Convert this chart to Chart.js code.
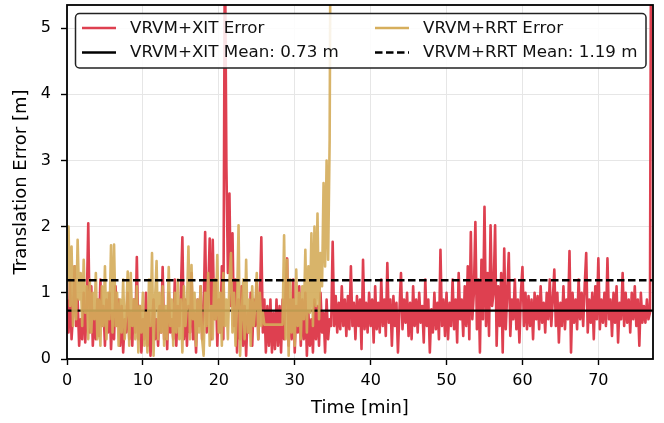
<!DOCTYPE html>
<html>
<head>
<meta charset="utf-8">
<script src="https://cdn.jsdelivr.net/npm/chart.js@4/dist/chart.umd.min.js"></script>
<style>
html,body{margin:0;padding:0;background:#fff;}
#wrap{width:664px;height:423px;position:relative;}
</style>
</head>
<body>
<div id="wrap"><canvas id="c" width="664" height="423"></canvas></div>
<script>
// ---- data ----
const timeStep = 0.2; // minutes between samples
const xitError = [
0.9,0.4,1.2,0.3,0.7, 1.4,0.5,0.9,0.2,0.6, 0.3,1.0,0.25,0.8,2.05, 0.4,1.1,0.2,0.7,0.3, 0.9,0.35,1.2,0.5,0.8,
0.2,0.9,0.4,1.0,0.15, 0.7,0.3,1.1,0.5,0.9, 0.2,0.8,0.1,0.6,0.4, 1.0,0.3,0.7,0.2,0.9, 0.4,1.54,0.3,0.8,0.1,
0.6,0.3,1.0,0.2,0.7, 0.05,0.5,0.9,0.3,0.6, 0.2,0.8,0.4,1.39,0.3, 0.7,0.15,1.0,0.4,0.6, 0.3,1.2,0.2,0.8,0.5,
1.0,1.84,0.3,0.9,0.2, 0.8,0.4,1.3,0.3,0.7, 0.1,0.9,0.5,1.1,0.3, 0.7,1.92,0.4,1.0,1.82, 0.3,1.8,0.6,1.2,0.2,
0.9,0.4,1.4,0.3,6.5, 2.9,1.3,2.5,0.8,1.9, 0.5,1.2,0.1,0.9,0.3, 1.1,0.2,0.8,0.05,0.7, 0.4,1.0,0.2,0.9,0.5,
1.2,0.3,0.8,1.84,0.4, 0.9,0.1,0.8,0.2,0.9, 0.1,0.7,0.15,0.9,0.2, 0.8,0.1,0.9,0.3,1.0, 1.52,0.2,0.9,0.3,1.2,
0.1,0.8,0.4,1.1,0.2, 0.9,0.3,1.0,0.05,0.7, 0.2,0.6,0.1,0.9,0.3, 0.8,0.2,1.0,0.4,0.7, 0.1,0.9,0.3,0.6,0.5,
1.77,0.5,0.95,0.4,0.85, 0.45,1.1,0.5,0.9,0.35, 0.95,0.45,1.4,0.5,0.85, 0.3,0.95,0.5,0.9,0.15, 1.5,0.45,0.85,0.4,1.0,
0.5,0.9,0.25,1.1,0.45, 0.85,0.4,1.2,0.5,0.9, 0.35,1.45,0.55,0.9,0.2, 0.95,0.5,0.85,0.1,0.75, 1.3,0.45,0.9,0.55,1.0,
0.35,0.85,0.3,1.1,0.5, 0.9,0.4,1.0,0.55,0.8, 0.25,1.2,0.5,0.9,0.1, 0.75,0.4,1.0,0.45,0.85, 0.3,1.65,0.5,0.9,0.35,
1.0,0.3,0.85,0.5,1.2, 0.45,0.9,0.25,1.3,0.6, 0.9,0.35,1.1,0.5,1.4, 0.3,1.92,0.6,1.0,2.07, 0.45,1.2,0.1,1.5,0.6,
2.3,0.5,1.3,0.35,2.02, 0.8,1.0,2.02,0.2,1.1, 0.5,1.3,0.1,1.67,0.45, 1.0,1.6,0.35,0.9,0.6, 1.2,0.45,0.9,0.25,1.0,
1.39,0.5,1.0,0.45,0.95, 0.5,0.9,0.3,1.0,0.6, 0.95,0.45,1.1,0.55,0.85, 0.4,1.0,0.6,1.2,0.5, 0.9,1.35,0.5,1.0,0.25,
0.85,0.5,1.1,0.45,0.9, 0.6,1.63,0.1,1.0,0.55, 0.9,0.45,1.2,0.6,1.0, 0.5,1.1,1.6,0.4,0.9, 0.55,1.0,0.3,1.1,0.6,
1.52,0.45,0.9,0.55,1.0, 0.5,1.52,0.6,0.9,0.35, 1.0,0.55,1.1,0.25,0.85, 0.6,1.3,0.5,1.0,0.55, 0.9,0.4,1.0,0.6,1.1,
0.5,0.9,0.2,1.0,0.55, 0.8,0.55,0.9,0.6,0.7,
9.0
];
const rrtError = [
1.2,2.0,0.8,1.7,0.5, 1.4,0.6,1.8,0.9,1.3, 0.5,1.5,0.7,1.1,0.3, 1.2,0.4,1.0,0.6,1.3, 0.3,0.9,0.2,1.1,0.5,
1.4,0.3,1.0,0.6,1.72, 0.4,1.73,0.5,1.0,0.2, 0.9,0.4,1.2,0.3,0.7, 1.32,0.2,1.3,0.5,0.9, 0.3,1.1,0.1,0.8,0.4,
1.0,0.2,0.7,0.1,1.2, 0.5,1.6,0.05,0.9,1.48, 0.3,1.0,0.4,1.1,0.2, 0.8,0.3,1.39,0.5,0.9, 0.2,1.0,0.4,1.2,0.3,
0.9,0.1,1.1,0.5,0.8, 1.7,0.3,1.42,0.6,1.0, 0.2,0.9,0.4,1.1,0.3, 0.05,1.0,0.5,1.3,0.2, 0.8,0.3,1.2,0.6,1.57,
0.4,1.0,0.2,1.3,0.5, 0.9,0.3,1.2,1.6,0.4, 1.0,0.2,0.8,2.02,0.05, 0.6,1.2,0.3,1.5,0.4, 0.9,0.2,1.1,0.5,0.8,
1.3,0.3,1.0,0.5,0.7, 0.52,0.52,0.52,0.52,0.52, 0.52,0.52,0.52,0.52,0.52, 0.52,0.52,0.52,1.87,0.3, 1.5,0.05,1.2,0.4,0.9,
0.2,1.35,0.5,1.0,0.3, 1.1,0.6,1.65,0.4,1.4, 0.7,1.9,0.5,2.0,0.8, 2.2,0.6,1.6,1.1,2.66, 1.4,3.0,1.5,3.3,9.0
];
const xitMean = 0.73;
const rrtMean = 1.19;
const xRange = [0, 77.2];
const yRange = [0, 5.35];
const xTicks = [0, 10, 20, 30, 40, 50, 60, 70];
const yTicks = [0, 1, 2, 3, 4, 5];
const seriesLabels = ['VRVM+XIT Error', 'VRVM+XIT Mean: 0.73 m', 'VRVM+RRT Error', 'VRVM+RRT Mean: 1.19 m'];
const xTitle = 'Time [min]';
const yTitle = 'Translation Error [m]';

// ---- styles ----
const RED = 'rgb(222,64,80)';
const GOLD = 'rgba(212,172,90,0.9)';
const FONT = '"DejaVu Sans", "Liberation Sans", sans-serif';
const DASH = [7.5, 3.5];

const toPoints = arr => arr.map((v, i) => ({x: +(i * timeStep).toFixed(2), y: v}));
const hLine = v => [{x: xRange[0], y: v}, {x: xRange[1], y: v}];

const framePlugin = {
  id: 'frame',
  afterDatasetsDraw(chart) {
    const {ctx, chartArea: a} = chart;
    ctx.save();
    ctx.strokeStyle = '#000';
    ctx.lineWidth = 1.8;
    ctx.strokeRect(a.left, a.top, a.right - a.left, a.bottom - a.top);
    ctx.restore();
  }
};

const legendPlugin = {
  id: 'mplLegend',
  afterDraw(chart) {
    const ctx = chart.ctx;
    ctx.save();
    const bx = 75.5, by = 13.5, bw = 570.5, bh = 54.5, r = 4;
    ctx.beginPath();
    ctx.moveTo(bx + r, by);
    ctx.lineTo(bx + bw - r, by);
    ctx.arcTo(bx + bw, by, bx + bw, by + r, r);
    ctx.lineTo(bx + bw, by + bh - r);
    ctx.arcTo(bx + bw, by + bh, bx + bw - r, by + bh, r);
    ctx.lineTo(bx + r, by + bh);
    ctx.arcTo(bx, by + bh, bx, by + bh - r, r);
    ctx.lineTo(bx, by + r);
    ctx.arcTo(bx, by, bx + r, by, r);
    ctx.closePath();
    ctx.fillStyle = 'rgba(255,255,255,0.85)';
    ctx.fill();
    ctx.strokeStyle = '#222';
    ctx.lineWidth = 1.5;
    ctx.stroke();

    const items = [
      {label: seriesLabels[0], color: RED, dash: [], w: 2.5, x: 82, y: 28},
      {label: seriesLabels[1], color: '#000', dash: [], w: 2.5, x: 82, y: 52.5},
      {label: seriesLabels[2], color: 'rgb(214,174,92)', dash: [], w: 2.5, x: 375, y: 28},
      {label: seriesLabels[3], color: '#000', dash: DASH, w: 2.5, x: 375, y: 52.5}
    ];
    ctx.font = '16.7px ' + FONT;
    ctx.textBaseline = 'middle';
    ctx.textAlign = 'left';
    items.forEach(it => {
      ctx.beginPath();
      ctx.setLineDash(it.dash);
      ctx.strokeStyle = it.color;
      ctx.lineWidth = it.w;
      ctx.moveTo(it.x, it.y);
      ctx.lineTo(it.x + 34, it.y);
      ctx.stroke();
      ctx.setLineDash([]);
      ctx.fillStyle = '#111';
      ctx.fillText(it.label, it.x + 48, it.y + 0.5);
    });
    ctx.restore();
  }
};

new Chart(document.getElementById('c'), {
  type: 'line',
  data: {
    datasets: [
      {label: seriesLabels[0], data: toPoints(xitError), borderColor: RED, borderWidth: 2.6, order: 4},
      {label: seriesLabels[1], data: hLine(xitMean), borderColor: '#000', borderWidth: 2.3, order: 3},
      {label: seriesLabels[2], data: toPoints(rrtError), borderColor: GOLD, borderWidth: 2.6, order: 2},
      {label: seriesLabels[3], data: hLine(rrtMean), borderColor: '#000', borderWidth: 2.3, borderDash: DASH, order: 1}
    ]
  },
  options: {
    responsive: false,
    animation: false,
    devicePixelRatio: 1,
    parsing: false,
    elements: {point: {radius: 0}, line: {tension: 0, borderJoinStyle: 'round', borderCapStyle: 'butt'}},
    layout: {padding: {left: 0, top: 5, right: 11, bottom: 0}},
    plugins: {legend: {display: false}, tooltip: {enabled: false}},
    scales: {
      x: {
        type: 'linear',
        min: xRange[0], max: xRange[1],
        afterBuildTicks: s => { s.ticks = xTicks.map(v => ({value: v})); },
        afterFit: s => { s.height = 64; s.paddingLeft = 0; s.paddingRight = 0; },
        ticks: {autoSkip: false, maxRotation: 0, padding: 6, color: '#000', font: {family: FONT, size: 16}},
        grid: {color: '#e6e6e6', lineWidth: 1, tickLength: 6, tickColor: '#000', tickWidth: 1.4},
        border: {display: false},
        title: {display: true, text: xTitle, color: '#000', font: {family: FONT, size: 18}, padding: {top: 0, bottom: 4}}
      },
      y: {
        type: 'linear',
        min: yRange[0], max: yRange[1],
        afterBuildTicks: s => { s.ticks = yTicks.map(v => ({value: v})); },
        afterFit: s => { s.width = 67; s.paddingTop = 0; s.paddingBottom = 0; },
        ticks: {autoSkip: false, padding: 10, color: '#000', font: {family: FONT, size: 16}},
        grid: {color: '#e6e6e6', lineWidth: 1, tickLength: 6, tickColor: '#000', tickWidth: 1.4},
        border: {display: false},
        title: {display: true, text: yTitle, color: '#000', font: {family: FONT, size: 18}, padding: {top: 11, bottom: 0}}
      }
    }
  },
  plugins: [framePlugin, legendPlugin]
});
</script>
</body>
</html>
